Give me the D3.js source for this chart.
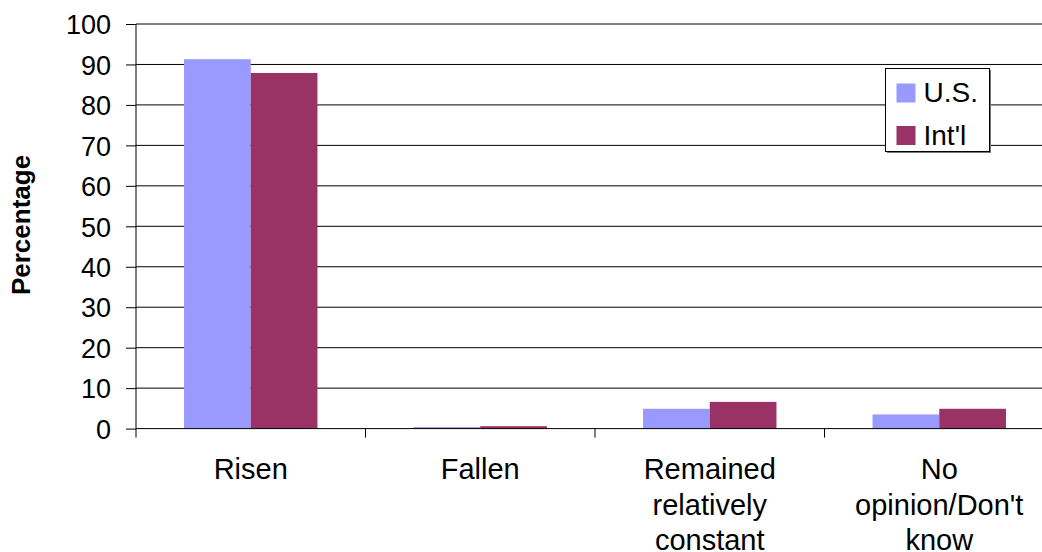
<!DOCTYPE html>
<html>
<head>
<meta charset="utf-8">
<script src="https://cdn.jsdelivr.net/npm/d3@7"></script>
<style>
  html, body { margin: 0; padding: 0; background: #fff; }
  svg { display: block; font-family: "Liberation Sans", Arial, sans-serif; }
</style>
</head>
<body>
<svg id="chart" width="1042" height="552"></svg>
<script>
// Survey answers: how has it changed?
const categories = ["Risen", "Fallen", "Remained relatively constant", "No opinion/Don't know"];
const categoryLines = [["Risen"], ["Fallen"], ["Remained", "relatively", "constant"], ["No", "opinion/Don't", "know"]];
const seriesNames = ["U.S.", "Int'l"];
const usValues = [91.3, 0.4, 4.9, 3.5];
const intlValues = [87.9, 0.6, 6.6, 4.9];
const yTicks = [0, 10, 20, 30, 40, 50, 60, 70, 80, 90, 100];
const seriesColors = ["#9999FF", "#993366"];

const svg = d3.select("#chart");
const plotLeft = 136, plotRight = 1054, plotTop = 24, plotBottom = 428.6;

const x0 = d3.scaleBand().domain(categories).range([plotLeft, plotRight]).paddingInner(0).paddingOuter(0);
const x1 = d3.scaleBand().domain(seriesNames).range([0, x0.bandwidth()]).paddingInner(0).paddingOuter(0.72);
const y = d3.scaleLinear().domain([0, 100]).range([plotBottom, plotTop]);
const color = d3.scaleOrdinal().domain(seriesNames).range(seriesColors);

const rows = categories.map((c, i) => ({ category: c, values: [usValues[i], intlValues[i]] }));

// Horizontal gridlines
svg.append("g")
  .selectAll("line")
  .data(yTicks.filter(t => t > 0))
  .join("line")
  .attr("x1", plotLeft).attr("x2", plotRight)
  .attr("y1", d => y(d)).attr("y2", d => y(d))
  .attr("stroke", "#000").attr("stroke-width", 1);

// Bars
svg.append("g")
  .selectAll("g")
  .data(rows)
  .join("g")
  .attr("transform", d => `translate(${x0(d.category)},0)`)
  .selectAll("rect")
  .data(d => seriesNames.map((s, j) => ({ series: s, value: d.values[j] })))
  .join("rect")
  .attr("x", d => x1(d.series))
  .attr("width", x1.bandwidth())
  .attr("y", d => y(d.value))
  .attr("height", d => y(0) - y(d.value))
  .attr("fill", d => color(d.series));

// Y axis
const yAxis = svg.append("g")
  .attr("transform", `translate(${plotLeft},0)`)
  .call(d3.axisLeft(y).tickValues(yTicks).tickSize(10).tickPadding(15).tickFormat(d3.format("d")));
yAxis.select(".domain").remove();
yAxis.selectAll(".tick line").attr("stroke", "#000");
yAxis.selectAll(".tick text")
  .attr("font-size", 27)
  .attr("font-family", "\"Liberation Sans\", Arial, sans-serif")
  .attr("fill", "#000")
  .attr("dy", "0.36em");
svg.append("line")
  .attr("x1", plotLeft).attr("x2", plotLeft)
  .attr("y1", y(100)).attr("y2", y(0))
  .attr("stroke", "#000");

// X axis baseline and category separators
svg.append("line")
  .attr("x1", plotLeft).attr("x2", plotRight)
  .attr("y1", y(0)).attr("y2", y(0))
  .attr("stroke", "#000");
const boundaries = categories.map(c => x0(c)).concat([x0(categories[categories.length - 1]) + x0.bandwidth()]);
svg.append("g")
  .selectAll("line")
  .data(boundaries)
  .join("line")
  .attr("x1", d => d).attr("x2", d => d)
  .attr("y1", y(0)).attr("y2", y(0) + 9)
  .attr("stroke", "#000");

// Category labels
svg.append("g")
  .selectAll("text")
  .data(categories)
  .join("text")
  .attr("x", d => x0(d) + x0.bandwidth() / 2)
  .attr("y", 479)
  .attr("text-anchor", "middle")
  .attr("font-size", 29)
  .attr("fill", "#000")
  .each(function(d, i) {
    d3.select(this).selectAll("tspan")
      .data(categoryLines[i])
      .join("tspan")
      .attr("x", x0(d) + x0.bandwidth() / 2)
      .attr("dy", (t, k) => k === 0 ? 0 : 35.5)
      .text(t => t);
  });

// Y axis title
svg.append("text")
  .attr("transform", "translate(30,225) rotate(-90)")
  .attr("text-anchor", "middle")
  .attr("font-size", 26)
  .attr("font-weight", "bold")
  .attr("fill", "#000")
  .text("Percentage");

// Legend
const legend = svg.append("g").attr("transform", "translate(885.5,68.5)");
legend.append("rect")
  .attr("x", 1.5).attr("y", 1.5).attr("width", 104).attr("height", 83)
  .attr("fill", "#777");
legend.append("rect")
  .attr("x", 0).attr("y", 0).attr("width", 104).attr("height", 83)
  .attr("fill", "#fff").attr("stroke", "#000").attr("stroke-width", 1);
const items = legend.selectAll("g.item")
  .data(seriesNames)
  .join("g")
  .attr("class", "item")
  .attr("transform", (d, i) => `translate(0,${15 + i * 42.5})`);
items.append("rect")
  .attr("x", 11).attr("y", 0).attr("width", 19).attr("height", 19)
  .attr("fill", d => color(d));
items.append("text")
  .attr("x", 38).attr("y", 18.5)
  .attr("font-size", 28)
  .attr("fill", "#000")
  .text(d => d);
</script>
</body>
</html>
